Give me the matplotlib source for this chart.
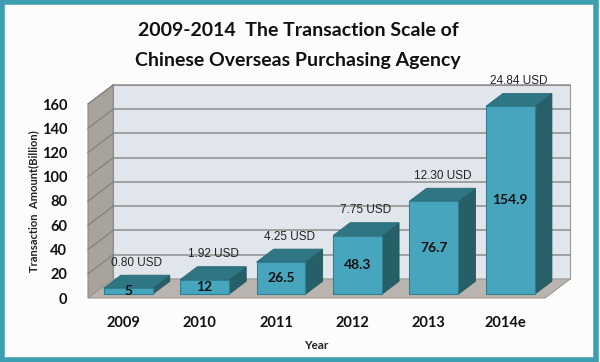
import numpy as np
import matplotlib
matplotlib.use("Agg")
import matplotlib.pyplot as plt
from matplotlib.patches import Polygon, Rectangle

years = ['2009', '2010', '2011', '2012', '2013', '2014e']
amount = [5, 12, 26.5, 48.3, 76.7, 154.9]
usd = ['0.80 USD', '1.92 USD', '4.25 USD', '7.75 USD', '12.30 USD', '24.84 USD']
yticks = [0, 20, 40, 60, 80, 100, 120, 140, 160]

# full depth of the fake 3d box, in data units
DX = 0.33
DY = 15.7
X0, X1 = -0.46, 5.52
YMAX = 160
W = 0.64
D0, D1 = 0.2, 0.88

fig = plt.figure(figsize=(6, 3.62), dpi=100)
fig.patch.set_facecolor('#fcfcfc')
fig.add_artist(Rectangle((0.003, 0.005), 0.991, 0.99, transform=fig.transFigure,
                         fill=False, edgecolor='#3d9fb0', linewidth=4))

ax = fig.add_axes([88 / 600, (362 - 298) / 362, (545 - 88) / 600, (298 - 104) / 362])
ax.set_xlim(X0, X1)
ax.set_ylim(0, YMAX)
ax.patch.set_visible(False)
for s in ax.spines.values():
    s.set_visible(False)

def poly(pts, **kw):
    p = Polygon(pts, closed=True, clip_on=False, **kw)
    ax.add_patch(p)
    return p

# back wall, left wall, floor
poly([(X0 + DX, DY), (X1 + DX, DY), (X1 + DX, YMAX + DY), (X0 + DX, YMAX + DY)],
     facecolor='#e1e6ed', edgecolor='#9a9a9a', linewidth=0.8, zorder=1)
poly([(X0, 0), (X0 + DX, DY), (X0 + DX, YMAX + DY), (X0, YMAX)],
     facecolor='#a9a39e', edgecolor='#8f8a85', linewidth=0.8, zorder=1)
poly([(X0, 0), (X1, 0), (X1 + DX, DY), (X0 + DX, DY)],
     facecolor='#b9b4af', edgecolor='#9d9893', linewidth=0.8, zorder=1)

for v in yticks[1:]:
    ax.plot([X0 + DX, X1 + DX], [v + DY, v + DY], color='#8e8e8e', lw=1.1,
            clip_on=False, zorder=2)
    ax.plot([X0, X0 + DX], [v, v + DY], color='#85807b', lw=0.9,
            clip_on=False, zorder=2)

for i, v in enumerate(amount):
    xl = i - W / 2 + D0 * DX
    xr = i + W / 2 + D0 * DX
    b = D0 * DY
    ddx = (D1 - D0) * DX
    ddy = (D1 - D0) * DY
    poly([(xr, b), (xr + ddx, b + ddy), (xr + ddx, b + v + ddy), (xr, b + v)],
         facecolor='#265f67', edgecolor='#23575e', linewidth=0.6, zorder=3)
    poly([(xl, b + v), (xr, b + v), (xr + ddx, b + v + ddy), (xl + ddx, b + v + ddy)],
         facecolor='#2e7683', edgecolor='#296a75', linewidth=0.6, zorder=3)
    poly([(xl, b), (xr, b), (xr, b + v), (xl, b + v)],
         facecolor='#47a6be', edgecolor='#2f7f90', linewidth=0.8, zorder=4)
    ax.text(i + D0 * DX, b + v / 2, f'{v:g}', ha='center', va='center',
            fontsize=10, fontweight='bold', family='Lato', color='#111111', zorder=5)
    ax.text(i + (D0 + D1) / 2 * DX, v + 24, usd[i], ha='center', va='center',
            fontsize=8.5, family='Liberation Sans', color='#222222', zorder=5)

ax.set_xticks(range(len(years)))
ax.set_xticklabels(years, fontsize=10.5, fontweight='bold', family='Lato')
ax.set_yticks(yticks)
ax.set_yticklabels([str(t) for t in yticks], fontsize=10.5, fontweight='bold', family='Lato')
ax.tick_params(axis='both', length=0, colors='#111111')
ax.tick_params(axis='y', pad=15)
ax.tick_params(axis='x', pad=13)
ax.set_ylabel('Transaction  Amount(Billion)', fontsize=8, fontweight='bold',
              family='Lato', labelpad=2, color='#222222')
ax.set_xlabel('Year', fontsize=8.5, fontweight='bold', family='Lato', labelpad=7,
              color='#222222')

fig.text(0.497, 0.917, '2009-2014  The Transaction Scale of', ha='center', va='center',
         fontsize=14, fontweight='bold', family='Lato', color='#111111')
fig.text(0.497, 0.832, 'Chinese Overseas Purchasing Agency', ha='center', va='center',
         fontsize=14, fontweight='bold', family='Lato', color='#111111')

fig.savefig('out.png', dpi=100, facecolor=fig.get_facecolor())
